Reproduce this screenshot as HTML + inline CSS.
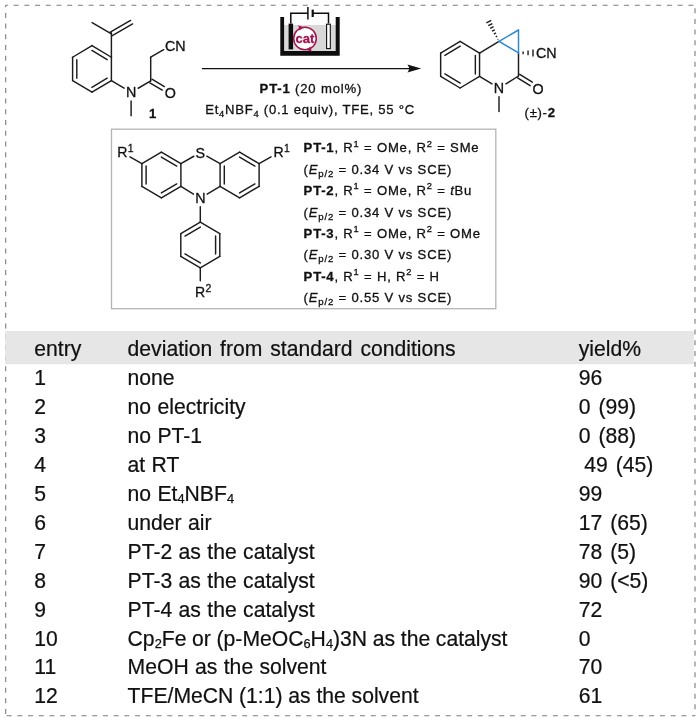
<!DOCTYPE html>
<html lang="en">
<head>
<meta charset="utf-8">
<title>Reaction optimisation table</title>
<style>
html,body{margin:0;padding:0;background:#fff;}
body{width:700px;height:721px;overflow:hidden;}
svg{display:block;will-change:transform;font-family:"Liberation Sans",sans-serif;}
</style>
</head>
<body>
<svg width="700" height="721" viewBox="0 0 700 721">
<rect x="0" y="0" width="700" height="721" fill="#ffffff"/>
<line x1="5.7" y1="5.3" x2="695" y2="5.3" stroke="#7c7c7c" stroke-width="1.1" stroke-dasharray="5 5.71" fill="none" stroke-dashoffset="2.8"/>
<line x1="5.7" y1="5.3" x2="5.7" y2="715.8" stroke="#7c7c7c" stroke-width="1.1" stroke-dasharray="5 5.71" fill="none" stroke-dashoffset="3.1"/>
<line x1="695" y1="5.3" x2="695" y2="715.8" stroke="#7c7c7c" stroke-width="1.1" stroke-dasharray="5 5.71" fill="none" stroke-dashoffset="-2.9"/>
<line x1="5.7" y1="715.8" x2="695" y2="715.8" stroke="#7c7c7c" stroke-width="1.1" stroke-dasharray="5 5.71" fill="none" stroke-dashoffset="-0.9"/>
<rect x="5.2" y="331" width="688.6" height="33.2" fill="#e6e6e6"/>
<g class="tb">
<text x="34.3" y="356" font-size="21.15" fill="#111" stroke="#111" stroke-width="0.22">entry</text>
<text x="127.6" y="356" font-size="21.15" fill="#111" stroke="#111" stroke-width="0.22" word-spacing="2.0">deviation from standard conditions</text>
<text x="578.8" y="356" font-size="21.15" fill="#111" stroke="#111" stroke-width="0.22" word-spacing="2">yield%</text>
<text x="34.3" y="384.95" font-size="21.15" fill="#111" stroke="#111" stroke-width="0.22">1</text>
<text x="127.6" y="384.95" font-size="21.15" fill="#111" stroke="#111" stroke-width="0.22" word-spacing="0.5">none</text>
<text x="578.8" y="384.95" font-size="21.15" fill="#111" stroke="#111" stroke-width="0.22" word-spacing="2">96</text>
<text x="34.3" y="413.9" font-size="21.15" fill="#111" stroke="#111" stroke-width="0.22">2</text>
<text x="127.6" y="413.9" font-size="21.15" fill="#111" stroke="#111" stroke-width="0.22" word-spacing="0.5">no electricity</text>
<text x="578.8" y="413.9" font-size="21.15" fill="#111" stroke="#111" stroke-width="0.22" word-spacing="2">0 (99)</text>
<text x="34.3" y="442.85" font-size="21.15" fill="#111" stroke="#111" stroke-width="0.22">3</text>
<text x="127.6" y="442.85" font-size="21.15" fill="#111" stroke="#111" stroke-width="0.22" word-spacing="0.5">no PT-1</text>
<text x="578.8" y="442.85" font-size="21.15" fill="#111" stroke="#111" stroke-width="0.22" word-spacing="2">0 (88)</text>
<text x="34.3" y="471.8" font-size="21.15" fill="#111" stroke="#111" stroke-width="0.22">4</text>
<text x="127.6" y="471.8" font-size="21.15" fill="#111" stroke="#111" stroke-width="0.22" word-spacing="0.5">at RT</text>
<text x="584.3" y="471.8" font-size="21.15" fill="#111" stroke="#111" stroke-width="0.22" word-spacing="2">49 (45)</text>
<text x="34.3" y="500.75" font-size="21.15" fill="#111" stroke="#111" stroke-width="0.22">5</text>
<text x="127.6" y="500.75" font-size="21.15" fill="#111" stroke="#111" stroke-width="0.22" word-spacing="0.5">no Et<tspan font-size="12.8" stroke-width="0.25" dy="2.4">4</tspan><tspan dy="-2.4">NBF</tspan><tspan font-size="12.8" stroke-width="0.25" dy="2.4">4</tspan></text>
<text x="578.8" y="500.75" font-size="21.15" fill="#111" stroke="#111" stroke-width="0.22" word-spacing="2">99</text>
<text x="34.3" y="529.7" font-size="21.15" fill="#111" stroke="#111" stroke-width="0.22">6</text>
<text x="127.6" y="529.7" font-size="21.15" fill="#111" stroke="#111" stroke-width="0.22" word-spacing="0.5">under air</text>
<text x="578.8" y="529.7" font-size="21.15" fill="#111" stroke="#111" stroke-width="0.22" word-spacing="2">17 (65)</text>
<text x="34.3" y="558.65" font-size="21.15" fill="#111" stroke="#111" stroke-width="0.22">7</text>
<text x="127.6" y="558.65" font-size="21.15" fill="#111" stroke="#111" stroke-width="0.22" word-spacing="0.5">PT-2 as the catalyst</text>
<text x="578.8" y="558.65" font-size="21.15" fill="#111" stroke="#111" stroke-width="0.22" word-spacing="2">78 (5)</text>
<text x="34.3" y="587.6" font-size="21.15" fill="#111" stroke="#111" stroke-width="0.22">8</text>
<text x="127.6" y="587.6" font-size="21.15" fill="#111" stroke="#111" stroke-width="0.22" word-spacing="0.5">PT-3 as the catalyst</text>
<text x="578.8" y="587.6" font-size="21.15" fill="#111" stroke="#111" stroke-width="0.22" word-spacing="2">90 (&lt;5)</text>
<text x="34.3" y="616.55" font-size="21.15" fill="#111" stroke="#111" stroke-width="0.22">9</text>
<text x="127.6" y="616.55" font-size="21.15" fill="#111" stroke="#111" stroke-width="0.22" word-spacing="0.5">PT-4 as the catalyst</text>
<text x="578.8" y="616.55" font-size="21.15" fill="#111" stroke="#111" stroke-width="0.22" word-spacing="2">72</text>
<text x="34.3" y="645.5" font-size="21.15" fill="#111" stroke="#111" stroke-width="0.22">10</text>
<text x="127.6" y="645.5" font-size="21.15" fill="#111" stroke="#111" stroke-width="0.22" word-spacing="-0.2">Cp<tspan font-size="12.8" stroke-width="0.25" dy="2.4">2</tspan><tspan dy="-2.4">Fe or (p-MeOC</tspan><tspan font-size="12.8" stroke-width="0.25" dy="2.4">6</tspan><tspan dy="-2.4">H</tspan><tspan font-size="12.8" stroke-width="0.25" dy="2.4">4</tspan><tspan dy="-2.4">)3N as the catalyst</tspan></text>
<text x="578.8" y="645.5" font-size="21.15" fill="#111" stroke="#111" stroke-width="0.22" word-spacing="2">0</text>
<text x="34.3" y="674.45" font-size="21.15" fill="#111" stroke="#111" stroke-width="0.22">11</text>
<text x="127.6" y="674.45" font-size="21.15" fill="#111" stroke="#111" stroke-width="0.22" word-spacing="0.5">MeOH as the solvent</text>
<text x="578.8" y="674.45" font-size="21.15" fill="#111" stroke="#111" stroke-width="0.22" word-spacing="2">70</text>
<text x="34.3" y="703.4" font-size="21.15" fill="#111" stroke="#111" stroke-width="0.22">12</text>
<text x="127.6" y="703.4" font-size="21.15" fill="#111" stroke="#111" stroke-width="0.22" word-spacing="-0.1">TFE/MeCN (1:1) as the solvent</text>
<text x="578.8" y="703.4" font-size="21.15" fill="#111" stroke="#111" stroke-width="0.22" word-spacing="2">61</text>
</g>
<line x1="92" y1="45.6" x2="111.4" y2="57.25" stroke="#1c1c1c" stroke-width="1.45" stroke-linecap="round"/>
<line x1="111.4" y1="57.25" x2="111.4" y2="80.55" stroke="#1c1c1c" stroke-width="1.45" stroke-linecap="round"/>
<line x1="111.4" y1="80.55" x2="92" y2="92.2" stroke="#1c1c1c" stroke-width="1.45" stroke-linecap="round"/>
<line x1="92" y1="92.2" x2="72.6" y2="80.55" stroke="#1c1c1c" stroke-width="1.45" stroke-linecap="round"/>
<line x1="72.6" y1="80.55" x2="72.6" y2="57.25" stroke="#1c1c1c" stroke-width="1.45" stroke-linecap="round"/>
<line x1="72.6" y1="57.25" x2="92" y2="45.6" stroke="#1c1c1c" stroke-width="1.45" stroke-linecap="round"/>
<line x1="91.9" y1="50.44" x2="107.18" y2="59.62" stroke="#1c1c1c" stroke-width="1.45" stroke-linecap="round"/>
<line x1="107.18" y1="78.18" x2="91.9" y2="87.36" stroke="#1c1c1c" stroke-width="1.45" stroke-linecap="round"/>
<line x1="76.8" y1="78.15" x2="76.8" y2="59.65" stroke="#1c1c1c" stroke-width="1.45" stroke-linecap="round"/>
<line x1="111.4" y1="57.25" x2="111.4" y2="32.8" stroke="#1c1c1c" stroke-width="1.45" stroke-linecap="round"/>
<line x1="111.4" y1="33.8" x2="92.1" y2="22.6" stroke="#1c1c1c" stroke-width="1.45" stroke-linecap="round"/>
<line x1="111.88" y1="35.83" x2="132.6" y2="23.93" stroke="#1c1c1c" stroke-width="1.45" stroke-linecap="round"/>
<line x1="109.88" y1="32.36" x2="130.6" y2="20.47" stroke="#1c1c1c" stroke-width="1.45" stroke-linecap="round"/>
<line x1="111.4" y1="80.55" x2="124.07" y2="88.17" stroke="#1c1c1c" stroke-width="1.45" stroke-linecap="round"/>
<text x="131.1" y="97.45" font-size="14.3" fill="#111" text-anchor="middle" stroke="#111" stroke-width="0.3">N</text>
<line x1="131.1" y1="101" x2="131.1" y2="115.8" stroke="#1c1c1c" stroke-width="1.45" stroke-linecap="round"/>
<line x1="138.17" y1="88.25" x2="150.7" y2="80.9" stroke="#1c1c1c" stroke-width="1.45" stroke-linecap="round"/>
<line x1="150.7" y1="80.9" x2="150.7" y2="57.2" stroke="#1c1c1c" stroke-width="1.45" stroke-linecap="round"/>
<line x1="150.7" y1="57.2" x2="163.67" y2="49.7" stroke="#1c1c1c" stroke-width="1.45" stroke-linecap="round"/>
<text x="165" y="51.2" font-size="14.3" fill="#111" stroke="#111" stroke-width="0.3">CN</text>
<line x1="149.83" y1="82.77" x2="162.27" y2="90.1" stroke="#1c1c1c" stroke-width="1.45" stroke-linecap="round"/>
<line x1="151.91" y1="79.24" x2="164.35" y2="86.57" stroke="#1c1c1c" stroke-width="1.45" stroke-linecap="round"/>
<text x="170.2" y="98" font-size="14.3" fill="#111" text-anchor="middle" stroke="#111" stroke-width="0.3">O</text>
<text x="149" y="118.4" font-size="13.1" fill="#111" font-weight="bold" stroke="#111" stroke-width="0.3">1</text>
<line x1="202" y1="68.6" x2="412" y2="68.6" stroke="#111" stroke-width="1.2" stroke-linecap="butt"/>
<path d="M421.2 68.6 L407.4 64.6 Q410.6 68.6 407.4 72.6 Z" fill="#111"/>
<text x="259.6" y="93" font-size="13.1" fill="#111" stroke="#111" stroke-width="0.3" letter-spacing="0.83"><tspan font-weight="bold">PT-1</tspan> (20 mol%)</text>
<text x="205.2" y="114" font-size="13.1" fill="#111" stroke="#111" stroke-width="0.3" letter-spacing="0.75">Et<tspan font-size="9.4" dy="2.6">4</tspan><tspan dy="-2.6">NBF</tspan><tspan font-size="9.4" dy="2.6">4</tspan><tspan dy="-2.6"> (0.1 equiv), TFE, 55 °C</tspan></text>
<rect x="284" y="25" width="52" height="26" fill="#d8d8d8"/>
<path d="M280.3 17.1 H284.1 V50.9 H335.7 V17.1 H339.7 V55.7 H280.3 Z" fill="#0d0d0d"/>
<rect x="288.6" y="23.6" width="4.5" height="25.8" fill="#0d0d0d"/>
<rect x="326.6" y="24.2" width="3.7" height="24.4" fill="#fff" stroke="#0d0d0d" stroke-width="1.1"/>
<path d="M290.8 23.6 V13.2 H307.9 M312.6 13.2 H328.5 V23.6" fill="none" stroke="#0d0d0d" stroke-width="1.5"/>
<line x1="307.9" y1="7" x2="307.9" y2="19.4" stroke="#0d0d0d" stroke-width="1.5" stroke-linecap="butt"/>
<line x1="312.7" y1="9.6" x2="312.7" y2="17" stroke="#0d0d0d" stroke-width="2.2" stroke-linecap="butt"/>
<circle cx="305" cy="38.5" r="11.3" fill="#fff" stroke="#a3134f" stroke-width="1.5"/>
<path d="M303.6 27.3 L298.2 25.2 L299.6 30.6 Z" fill="#a3134f"/>
<path d="M306.4 49.7 L311.8 51.8 L310.4 46.4 Z" fill="#a3134f"/>
<text x="305" y="42.7" font-size="13" fill="#a3134f" text-anchor="middle" font-weight="bold" stroke="#a3134f" stroke-width="0.3">cat</text>
<line x1="460.1" y1="41.4" x2="479.55" y2="53.05" stroke="#1c1c1c" stroke-width="1.45" stroke-linecap="round"/>
<line x1="479.55" y1="53.05" x2="479.55" y2="76.35" stroke="#1c1c1c" stroke-width="1.45" stroke-linecap="round"/>
<line x1="479.55" y1="76.35" x2="460.1" y2="88" stroke="#1c1c1c" stroke-width="1.45" stroke-linecap="round"/>
<line x1="460.1" y1="88" x2="440.65" y2="76.35" stroke="#1c1c1c" stroke-width="1.45" stroke-linecap="round"/>
<line x1="440.65" y1="76.35" x2="440.65" y2="53.05" stroke="#1c1c1c" stroke-width="1.45" stroke-linecap="round"/>
<line x1="440.65" y1="53.05" x2="460.1" y2="41.4" stroke="#1c1c1c" stroke-width="1.45" stroke-linecap="round"/>
<line x1="444.87" y1="55.42" x2="460.2" y2="46.24" stroke="#1c1c1c" stroke-width="1.45" stroke-linecap="round"/>
<line x1="475.35" y1="55.45" x2="475.35" y2="73.95" stroke="#1c1c1c" stroke-width="1.45" stroke-linecap="round"/>
<line x1="460.2" y1="83.16" x2="444.87" y2="73.98" stroke="#1c1c1c" stroke-width="1.45" stroke-linecap="round"/>
<line x1="479.55" y1="53.05" x2="499" y2="41.4" stroke="#1c1c1c" stroke-width="1.45" stroke-linecap="round"/>
<line x1="518.5" y1="52.9" x2="518.5" y2="76" stroke="#1c1c1c" stroke-width="1.45" stroke-linecap="round"/>
<line x1="518.5" y1="76" x2="505.95" y2="83.85" stroke="#1c1c1c" stroke-width="1.45" stroke-linecap="round"/>
<line x1="479.55" y1="76.35" x2="492" y2="83.93" stroke="#1c1c1c" stroke-width="1.45" stroke-linecap="round"/>
<text x="499" y="93.25" font-size="14.3" fill="#111" text-anchor="middle" stroke="#111" stroke-width="0.3">N</text>
<line x1="499" y1="96.8" x2="499" y2="111.4" stroke="#1c1c1c" stroke-width="1.45" stroke-linecap="round"/>
<line x1="517.58" y1="77.84" x2="530.13" y2="85.69" stroke="#1c1c1c" stroke-width="1.45" stroke-linecap="round"/>
<line x1="519.76" y1="74.37" x2="532.31" y2="82.22" stroke="#1c1c1c" stroke-width="1.45" stroke-linecap="round"/>
<text x="538" y="93.8" font-size="14.3" fill="#111" text-anchor="middle" stroke="#111" stroke-width="0.3">O</text>
<line x1="499" y1="41.4" x2="518.5" y2="52.9" stroke="#2b86d6" stroke-width="1.45" stroke-linecap="round"/>
<line x1="499" y1="41.4" x2="518.5" y2="30" stroke="#2b86d6" stroke-width="1.45" stroke-linecap="round"/>
<line x1="518.5" y1="30" x2="518.5" y2="52.9" stroke="#2b86d6" stroke-width="1.45" stroke-linecap="round"/>
<line x1="497.64" y1="39.63" x2="498.35" y2="39.26" stroke="#1c1c1c" stroke-width="1.4" stroke-linecap="butt"/>
<line x1="495.76" y1="36.83" x2="497.16" y2="36.11" stroke="#1c1c1c" stroke-width="1.4" stroke-linecap="butt"/>
<line x1="493.89" y1="34.03" x2="495.97" y2="32.96" stroke="#1c1c1c" stroke-width="1.4" stroke-linecap="butt"/>
<line x1="492.02" y1="31.23" x2="494.77" y2="29.81" stroke="#1c1c1c" stroke-width="1.4" stroke-linecap="butt"/>
<line x1="490.15" y1="28.43" x2="493.58" y2="26.66" stroke="#1c1c1c" stroke-width="1.4" stroke-linecap="butt"/>
<line x1="488.27" y1="25.63" x2="492.39" y2="23.51" stroke="#1c1c1c" stroke-width="1.4" stroke-linecap="butt"/>
<line x1="486.4" y1="22.84" x2="491.2" y2="20.36" stroke="#1c1c1c" stroke-width="1.4" stroke-linecap="butt"/>
<line x1="523.1" y1="51.6" x2="523.1" y2="54.2" stroke="#1c1c1c" stroke-width="1.4" stroke-linecap="butt"/>
<line x1="528.05" y1="50.5" x2="528.05" y2="55.3" stroke="#1c1c1c" stroke-width="1.4" stroke-linecap="butt"/>
<line x1="533" y1="49.4" x2="533" y2="56.4" stroke="#1c1c1c" stroke-width="1.4" stroke-linecap="butt"/>
<text x="536" y="58.1" font-size="14.3" fill="#111" stroke="#111" stroke-width="0.3">CN</text>
<text x="524.6" y="117.2" font-size="13.1" fill="#111" stroke="#111" stroke-width="0.3" letter-spacing="0.7">(±)-<tspan font-weight="bold">2</tspan></text>
<rect x="111.5" y="129.2" width="384.3" height="179.5" fill="#fff" stroke="#b4b4b4" stroke-width="1.3"/>
<line x1="161.4" y1="152.2" x2="180.9" y2="163.6" stroke="#1c1c1c" stroke-width="1.45" stroke-linecap="round"/>
<line x1="180.9" y1="163.6" x2="180.9" y2="186.4" stroke="#1c1c1c" stroke-width="1.45" stroke-linecap="round"/>
<line x1="180.9" y1="186.4" x2="161.4" y2="197.8" stroke="#1c1c1c" stroke-width="1.45" stroke-linecap="round"/>
<line x1="161.4" y1="197.8" x2="141.9" y2="186.4" stroke="#1c1c1c" stroke-width="1.45" stroke-linecap="round"/>
<line x1="141.9" y1="186.4" x2="141.9" y2="163.6" stroke="#1c1c1c" stroke-width="1.45" stroke-linecap="round"/>
<line x1="141.9" y1="163.6" x2="161.4" y2="152.2" stroke="#1c1c1c" stroke-width="1.45" stroke-linecap="round"/>
<line x1="161.35" y1="157.04" x2="176.71" y2="166.01" stroke="#1c1c1c" stroke-width="1.45" stroke-linecap="round"/>
<line x1="176.71" y1="183.99" x2="161.35" y2="192.96" stroke="#1c1c1c" stroke-width="1.45" stroke-linecap="round"/>
<line x1="146.1" y1="184" x2="146.1" y2="166" stroke="#1c1c1c" stroke-width="1.45" stroke-linecap="round"/>
<line x1="239.6" y1="152.2" x2="259.1" y2="163.6" stroke="#1c1c1c" stroke-width="1.45" stroke-linecap="round"/>
<line x1="259.1" y1="163.6" x2="259.1" y2="186.4" stroke="#1c1c1c" stroke-width="1.45" stroke-linecap="round"/>
<line x1="259.1" y1="186.4" x2="239.6" y2="197.8" stroke="#1c1c1c" stroke-width="1.45" stroke-linecap="round"/>
<line x1="239.6" y1="197.8" x2="220.1" y2="186.4" stroke="#1c1c1c" stroke-width="1.45" stroke-linecap="round"/>
<line x1="220.1" y1="186.4" x2="220.1" y2="163.6" stroke="#1c1c1c" stroke-width="1.45" stroke-linecap="round"/>
<line x1="220.1" y1="163.6" x2="239.6" y2="152.2" stroke="#1c1c1c" stroke-width="1.45" stroke-linecap="round"/>
<line x1="239.55" y1="157.04" x2="254.91" y2="166.01" stroke="#1c1c1c" stroke-width="1.45" stroke-linecap="round"/>
<line x1="254.91" y1="183.99" x2="239.55" y2="192.96" stroke="#1c1c1c" stroke-width="1.45" stroke-linecap="round"/>
<line x1="224.3" y1="184" x2="224.3" y2="166" stroke="#1c1c1c" stroke-width="1.45" stroke-linecap="round"/>
<line x1="180.9" y1="163.6" x2="193.86" y2="156.25" stroke="#1c1c1c" stroke-width="1.45" stroke-linecap="round"/>
<line x1="220.1" y1="163.6" x2="206.77" y2="156.19" stroke="#1c1c1c" stroke-width="1.45" stroke-linecap="round"/>
<line x1="180.9" y1="186.4" x2="193.48" y2="194.12" stroke="#1c1c1c" stroke-width="1.45" stroke-linecap="round"/>
<line x1="220.1" y1="186.4" x2="207.16" y2="194.18" stroke="#1c1c1c" stroke-width="1.45" stroke-linecap="round"/>
<text x="200.3" y="157.7" font-size="14.3" fill="#111" text-anchor="middle" stroke="#111" stroke-width="0.3">S</text>
<text x="200.3" y="203.35" font-size="14.3" fill="#111" text-anchor="middle" stroke="#111" stroke-width="0.3">N</text>
<line x1="141.9" y1="163.6" x2="130" y2="156.8" stroke="#1c1c1c" stroke-width="1.45" stroke-linecap="round"/>
<line x1="259.1" y1="163.6" x2="271" y2="156.8" stroke="#1c1c1c" stroke-width="1.45" stroke-linecap="round"/>
<text x="117.2" y="157.4" font-size="14.1" fill="#111" stroke="#111" stroke-width="0.3">R<tspan font-size="10.4" dy="-5.3" dx="0.4">1</tspan></text>
<text x="273.4" y="157.4" font-size="14.1" fill="#111" stroke="#111" stroke-width="0.3">R<tspan font-size="10.4" dy="-5.3" dx="0.4">1</tspan></text>
<line x1="200.3" y1="222.2" x2="219.8" y2="233.6" stroke="#1c1c1c" stroke-width="1.45" stroke-linecap="round"/>
<line x1="219.8" y1="233.6" x2="219.8" y2="256.4" stroke="#1c1c1c" stroke-width="1.45" stroke-linecap="round"/>
<line x1="219.8" y1="256.4" x2="200.3" y2="267.8" stroke="#1c1c1c" stroke-width="1.45" stroke-linecap="round"/>
<line x1="200.3" y1="267.8" x2="180.8" y2="256.4" stroke="#1c1c1c" stroke-width="1.45" stroke-linecap="round"/>
<line x1="180.8" y1="256.4" x2="180.8" y2="233.6" stroke="#1c1c1c" stroke-width="1.45" stroke-linecap="round"/>
<line x1="180.8" y1="233.6" x2="200.3" y2="222.2" stroke="#1c1c1c" stroke-width="1.45" stroke-linecap="round"/>
<line x1="184.99" y1="236.01" x2="200.35" y2="227.04" stroke="#1c1c1c" stroke-width="1.45" stroke-linecap="round"/>
<line x1="215.6" y1="236" x2="215.6" y2="254" stroke="#1c1c1c" stroke-width="1.45" stroke-linecap="round"/>
<line x1="200.35" y1="262.96" x2="184.99" y2="253.99" stroke="#1c1c1c" stroke-width="1.45" stroke-linecap="round"/>
<line x1="200.3" y1="206.7" x2="200.3" y2="222.2" stroke="#1c1c1c" stroke-width="1.45" stroke-linecap="round"/>
<line x1="200.3" y1="267.8" x2="200.3" y2="280.8" stroke="#1c1c1c" stroke-width="1.45" stroke-linecap="round"/>
<text x="195" y="296.9" font-size="14.1" fill="#111" stroke="#111" stroke-width="0.3">R<tspan font-size="10.4" dy="-5.3" dx="0.4">2</tspan></text>
<text x="303.6" y="152.4" font-size="13.1" fill="#111" stroke="#111" stroke-width="0.3" letter-spacing="0.8"><tspan font-weight="bold">PT-1</tspan>, R<tspan font-size="9.3" dy="-5.8">1</tspan><tspan dy="5.8"> = OMe, R</tspan><tspan font-size="9.3" dy="-5.8">2</tspan><tspan dy="5.8"> = SMe</tspan></text>
<text x="303.6" y="173.77" font-size="13.1" fill="#111" stroke="#111" stroke-width="0.3" letter-spacing="0.8">(<tspan font-style="italic">E</tspan><tspan font-size="9.6" dy="3">p/2</tspan><tspan dy="-3"> = 0.34 V vs SCE)</tspan></text>
<text x="303.6" y="195.14" font-size="13.1" fill="#111" stroke="#111" stroke-width="0.3" letter-spacing="0.8"><tspan font-weight="bold">PT-2</tspan>, R<tspan font-size="9.3" dy="-5.8">1</tspan><tspan dy="5.8"> = OMe, R</tspan><tspan font-size="9.3" dy="-5.8">2</tspan><tspan dy="5.8"> = </tspan><tspan font-style="italic">t</tspan>Bu</text>
<text x="303.6" y="216.51" font-size="13.1" fill="#111" stroke="#111" stroke-width="0.3" letter-spacing="0.8">(<tspan font-style="italic">E</tspan><tspan font-size="9.6" dy="3">p/2</tspan><tspan dy="-3"> = 0.34 V vs SCE)</tspan></text>
<text x="303.6" y="237.88" font-size="13.1" fill="#111" stroke="#111" stroke-width="0.3" letter-spacing="0.8"><tspan font-weight="bold">PT-3</tspan>, R<tspan font-size="9.3" dy="-5.8">1</tspan><tspan dy="5.8"> = OMe, R</tspan><tspan font-size="9.3" dy="-5.8">2</tspan><tspan dy="5.8"> = OMe</tspan></text>
<text x="303.6" y="259.25" font-size="13.1" fill="#111" stroke="#111" stroke-width="0.3" letter-spacing="0.8">(<tspan font-style="italic">E</tspan><tspan font-size="9.6" dy="3">p/2</tspan><tspan dy="-3"> = 0.30 V vs SCE)</tspan></text>
<text x="303.6" y="280.62" font-size="13.1" fill="#111" stroke="#111" stroke-width="0.3" letter-spacing="0.8"><tspan font-weight="bold">PT-4</tspan>, R<tspan font-size="9.3" dy="-5.8">1</tspan><tspan dy="5.8"> = H, R</tspan><tspan font-size="9.3" dy="-5.8">2</tspan><tspan dy="5.8"> = H</tspan></text>
<text x="303.6" y="301.99" font-size="13.1" fill="#111" stroke="#111" stroke-width="0.3" letter-spacing="0.8">(<tspan font-style="italic">E</tspan><tspan font-size="9.6" dy="3">p/2</tspan><tspan dy="-3"> = 0.55 V vs SCE)</tspan></text>
</svg>
</body>
</html>
